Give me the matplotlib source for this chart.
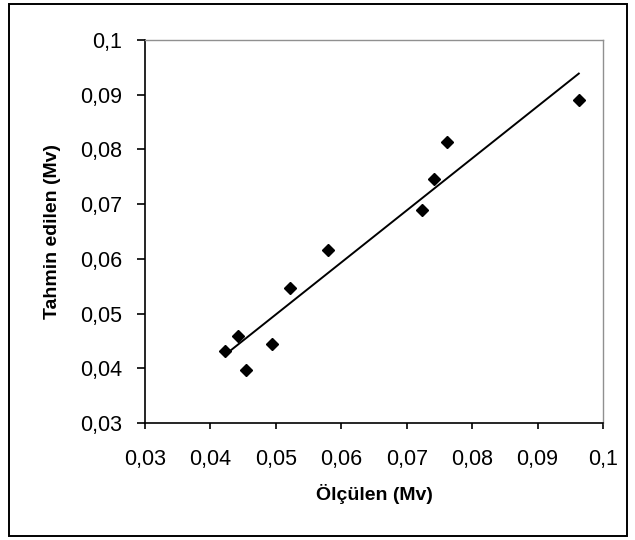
import numpy as np
import matplotlib
matplotlib.use("Agg")
import matplotlib.pyplot as plt
from matplotlib.patches import Rectangle
from matplotlib.ticker import FuncFormatter, MultipleLocator

# olculen (x) ve tahmin edilen (y) degerler, Mv
measured = [0.0423, 0.04425, 0.0455, 0.0494, 0.0521, 0.0579, 0.0723, 0.0742, 0.0761, 0.0963]
predicted = [0.0432, 0.0459, 0.0397, 0.0444, 0.0546, 0.0616, 0.0689, 0.0746, 0.0814, 0.0890]

x_label = "Ölçülen (Mv)"
y_label = "Tahmin edilen (Mv)"


def comma_fmt(v, pos):
    s = "{:.2f}".format(v).rstrip("0").rstrip(".")
    return s.replace(".", ",")


def main():
    plt.rcParams['font.family'] = ['Liberation Sans', 'DejaVu Sans']

    fig = plt.figure(figsize=(6.35, 5.40), dpi=100)
    # outer chart border like excel
    fig.patches.append(Rectangle((9 / 635, 1 - 536 / 540), 618 / 635, 532 / 540,
                                 transform=fig.transFigure, fill=False,
                                 edgecolor="black", linewidth=1.4))

    ax = fig.add_axes([145 / 635, 1 - 423 / 540, 458 / 635, 383 / 540])

    x = np.array(measured)
    y = np.array(predicted)

    # linear trendline
    slope, intercept = np.polyfit(x, y, 1)
    xs = np.array([x.min(), x.max()])
    ax.plot(xs, slope * xs + intercept, color="black", linewidth=1.4, zorder=2)

    ax.plot(x, y, linestyle="none", marker="D", markersize=6.5,
            color="black", zorder=3)

    ax.set_xlim(0.03, 0.1)
    ax.set_ylim(0.03, 0.1)
    ax.xaxis.set_major_locator(MultipleLocator(0.01))
    ax.yaxis.set_major_locator(MultipleLocator(0.01))
    ax.xaxis.set_major_formatter(FuncFormatter(comma_fmt))
    ax.yaxis.set_major_formatter(FuncFormatter(comma_fmt))

    for side in ["top", "right"]:
        ax.spines[side].set_color("#909090")
        ax.spines[side].set_linewidth(1.0)
    for side in ["left", "bottom"]:
        ax.spines[side].set_color("black")
        ax.spines[side].set_linewidth(1.2)

    ax.tick_params(axis="x", direction="out", length=4.5, width=1.2, pad=14, labelsize=15.5)
    ax.tick_params(axis="y", direction="out", length=5.5, width=1.2, pad=11, labelsize=15.5)

    ax.set_xlabel(x_label, fontsize=14, fontweight="bold", labelpad=10)
    ax.set_ylabel(y_label, fontsize=14, fontweight="bold", labelpad=14)

    fig.savefig("out.png", dpi=100)


if __name__ == '__main__':
    main()
